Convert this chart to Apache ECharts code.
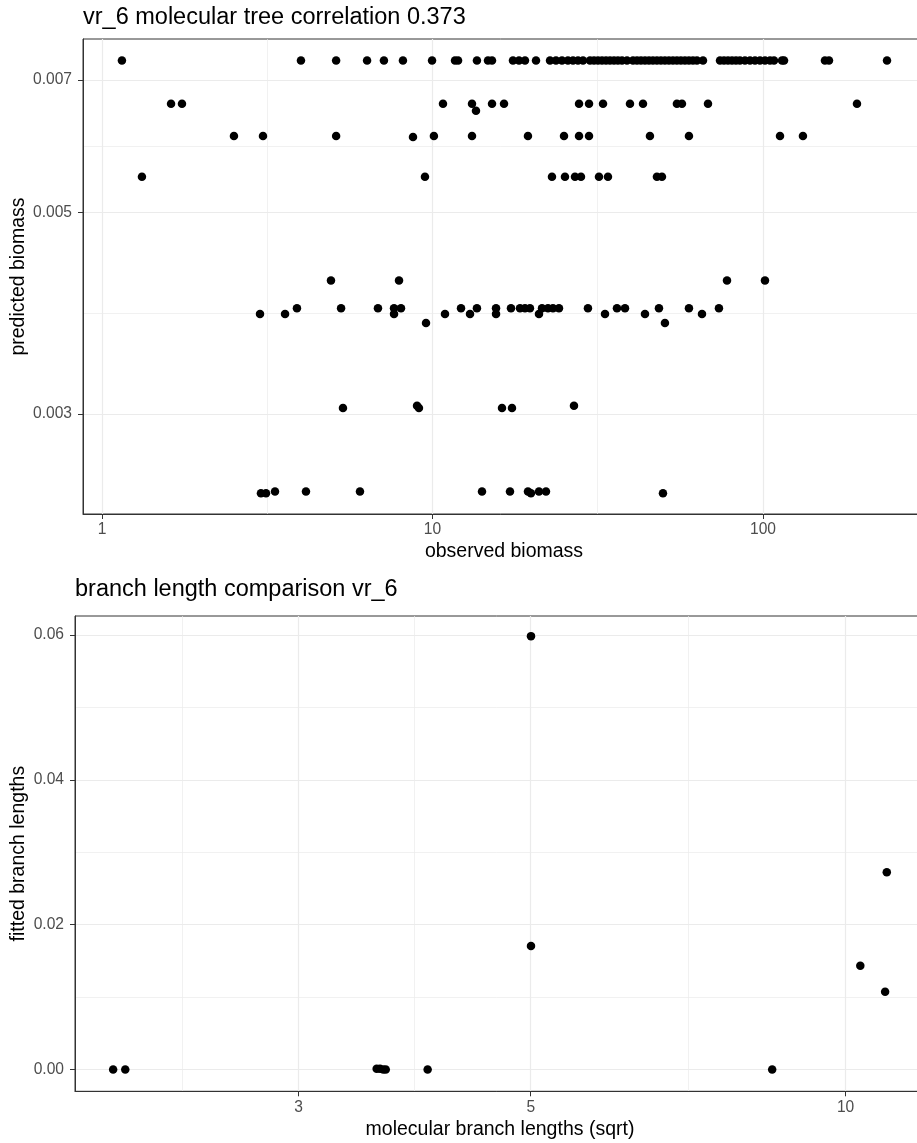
<!DOCTYPE html>
<html><head><meta charset="utf-8">
<script src="https://cdn.jsdelivr.net/npm/echarts@6/dist/echarts.min.js"></script>
<style>html,body{margin:0;padding:0;background:#fff}#c{width:917px;height:1143px}</style>
</head><body><div id="c"></div>
<script>
// ---- Top panel data: observed biomass grouped by (discrete) predicted biomass level ----
const predictedLevels = [0.00736, 0.006592, 0.006476, 0.006076, 0.00606, 0.005477, 0.004211, 0.003924, 0.003867, 0.00378, 0.003063, 0.003046, 0.002465, 0.002453];
const observedByLevel = [
  [1.149, 4.00, 5.11, 6.34, 7.13, 8.14, 9.97, 11.70, 11.95, 13.63, 14.72, 15.14, 17.52, 18.27, 19.05, 20.57, 22.68, 23.64, 24.65, 25.70, 26.62, 27.56, 28.54, 29.97, 30.81, 31.68, 32.58, 33.50, 34.44, 35.42, 36.41, 37.45, 38.77, 40.43, 41.57, 42.74, 43.95, 45.19, 46.46, 47.77, 49.12, 50.51, 51.93, 53.40, 54.90, 56.45, 58.07, 59.71, 61.40, 63.13, 65.84, 74.13, 76.21, 78.37, 80.58, 82.85, 85.18, 88.20, 91.35, 94.58, 97.93, 101.4, 105.0, 108.0, 114.2, 115.8, 154.0, 158.4, 237.3],
  [1.618, 1.746, 10.76, 13.17, 15.14, 16.46, 27.76, 29.76, 32.81, 39.59, 43.35, 54.90, 56.87, 68.18, 192.5],
  [13.54],
  [2.508, 3.070, 5.11, 10.10, 13.17, 19.45, 25.00, 27.76, 29.76, 45.50, 59.71, 112.6, 132.1],
  [8.73],
  [1.321, 9.49, 22.99, 25.17, 26.99, 28.14, 31.90, 33.96, 47.77, 49.47],
  [4.93, 7.92, 77.83, 101.4],
  [3.89, 5.29, 6.84, 7.65, 8.03, 12.20, 13.63, 15.57, 17.28, 18.40, 19.05, 19.72, 21.45, 22.36, 23.15, 24.14, 29.54, 36.16, 38.24, 48.45, 59.71, 73.58],
  [3.007, 3.58, 7.65, 10.91, 12.99, 15.57, 21.00, 33.27, 43.95, 65.38],
  [9.56, 50.51],
  [8.98, 26.80],
  [5.36, 9.10, 16.23, 17.40],
  [3.338, 4.142, 6.034, 14.12, 17.16, 19.45, 21.00, 22.05],
  [3.027, 3.135, 19.86, 49.82]
];
// ---- Bottom panel data ----
const molecularBranch = [1.994, 2.048, 3.562, 3.588, 3.614, 3.634, 3.985, 5.003, 5.003, 8.508, 10.33, 10.95, 10.91];
const fittedBranch    = [0.0000, 0.0000, 0.0001, 0.0001, 0.0000, 0.0000, 0.0000, 0.05986, 0.01706, 0.0000, 0.01434, 0.02724, 0.01075];
// ---- Ticks ----
const topXTicks = [1, 10, 100];
const topXMinor = [3.1623, 31.623];
const topYTicks = [0.003, 0.005, 0.007];
const topYMinor = [0.003873, 0.005916];
const botXTicks = [3, 5, 10];
const botXMinor = [2.324, 3.873, 7.071];
const botYTicks = [0, 0.02, 0.04, 0.06];
const botYMinor = [0.01, 0.03, 0.05];

const topPoints = [];
predictedLevels.forEach((p, i) => observedByLevel[i].forEach(o => topPoints.push([o, p])));
const botPoints = molecularBranch.map((x, i) => [x, fittedBranch[i]]);

const FONT = "'Liberation Sans', Arial, Helvetica, sans-serif";
const GRID = '#ebebeb';
const AXC = '#333333';

function mainAxis(type, gridIndex, min, max, ticks, fmt, isY, name, nameGap) {
  return {
    type, gridIndex, min, max, position: isY ? 'left' : 'bottom',
    name, nameLocation: 'middle', nameGap, nameRotate: isY ? 90 : 0, nameMoveOverlap: false,
    nameTextStyle: { fontFamily: FONT, fontSize: 19.5, color: '#000' },
    axisLine: { show: true, onZero: false, lineStyle: { color: AXC, width: 1 } },
    axisTick: { show: true, length: 5, lineStyle: { color: AXC, width: 1 }, customValues: ticks },
    axisLabel: { show: true, customValues: ticks, formatter: fmt, margin: isY ? 11 : 8,
      fontFamily: FONT, fontSize: 15.6, color: '#4d4d4d', hideOverlap: false },
    splitLine: { show: true, lineStyle: { color: GRID, width: 1.2 } },
    minorTick: { show: false }, minorSplitLine: { show: false }
  };
}
function minorAxis(type, gridIndex, min, max, values, isY) {
  return {
    type, gridIndex, min, max, position: isY ? 'right' : 'top',
    axisLine: { show: false }, axisTick: { show: false, customValues: values },
    axisLabel: { show: false, customValues: values },
    splitLine: { show: true, lineStyle: { color: GRID, width: 0.7 } }
  };
}

const topXMin = 0.8761, topXMax = 309.2, topYMin = 0.0023277, topYMax = 0.007771;
const botXMin = 1.8334, botXMax = 11.911, botYMin = -0.003011, botYMax = 0.06264;

const chart = echarts.init(document.getElementById('c'), null, { renderer: 'canvas' });
chart.setOption({
  animation: false,
  backgroundColor: '#ffffff',
  title: [
    { text: 'vr_6 molecular tree correlation 0.373', left: 83, top: 6, padding: 0,
      textStyle: { fontFamily: FONT, fontSize: 23.5, fontWeight: 'normal', color: '#000' } },
    { text: 'branch length comparison vr_6', left: 75, top: 578, padding: 0,
      textStyle: { fontFamily: FONT, fontSize: 23.5, fontWeight: 'normal', color: '#000' } }
  ],
  grid: [
    { left: 83, top: 39, width: 842, height: 475, show: true, borderColor: AXC, borderWidth: 1, backgroundColor: 'transparent', containLabel: false, outerBoundsMode: 'none' },
    { left: 75, top: 616, width: 850, height: 475.3, show: true, borderColor: AXC, borderWidth: 1, backgroundColor: 'transparent', containLabel: false, outerBoundsMode: 'none' }
  ],
  xAxis: [
    mainAxis('log', 0, topXMin, topXMax, topXTicks, v => String(v), false, 'observed biomass', 28),
    minorAxis('log', 0, topXMin, topXMax, topXMinor, false),
    mainAxis('log', 1, botXMin, botXMax, botXTicks, v => String(v), false, 'molecular branch lengths (sqrt)', 28),
    minorAxis('log', 1, botXMin, botXMax, botXMinor, false)
  ],
  yAxis: [
    mainAxis('log', 0, topYMin, topYMax, topYTicks, v => v.toFixed(3), true, 'predicted biomass', 54),
    minorAxis('log', 0, topYMin, topYMax, topYMinor, true),
    mainAxis('value', 1, botYMin, botYMax, botYTicks, v => v.toFixed(2), true, 'fitted branch lengths', 46),
    minorAxis('value', 1, botYMin, botYMax, botYMinor, true)
  ],
  series: [
    { type: 'scatter', xAxisIndex: 0, yAxisIndex: 0, data: topPoints, symbol: 'circle', symbolSize: 8.5,
      itemStyle: { color: '#000', opacity: 1 }, emphasis: { disabled: true }, z: 5 },
    { type: 'scatter', xAxisIndex: 2, yAxisIndex: 2, data: botPoints, symbol: 'circle', symbolSize: 8.5,
      itemStyle: { color: '#000', opacity: 1 }, emphasis: { disabled: true }, z: 5 }
  ]
});
</script>
</body></html>
